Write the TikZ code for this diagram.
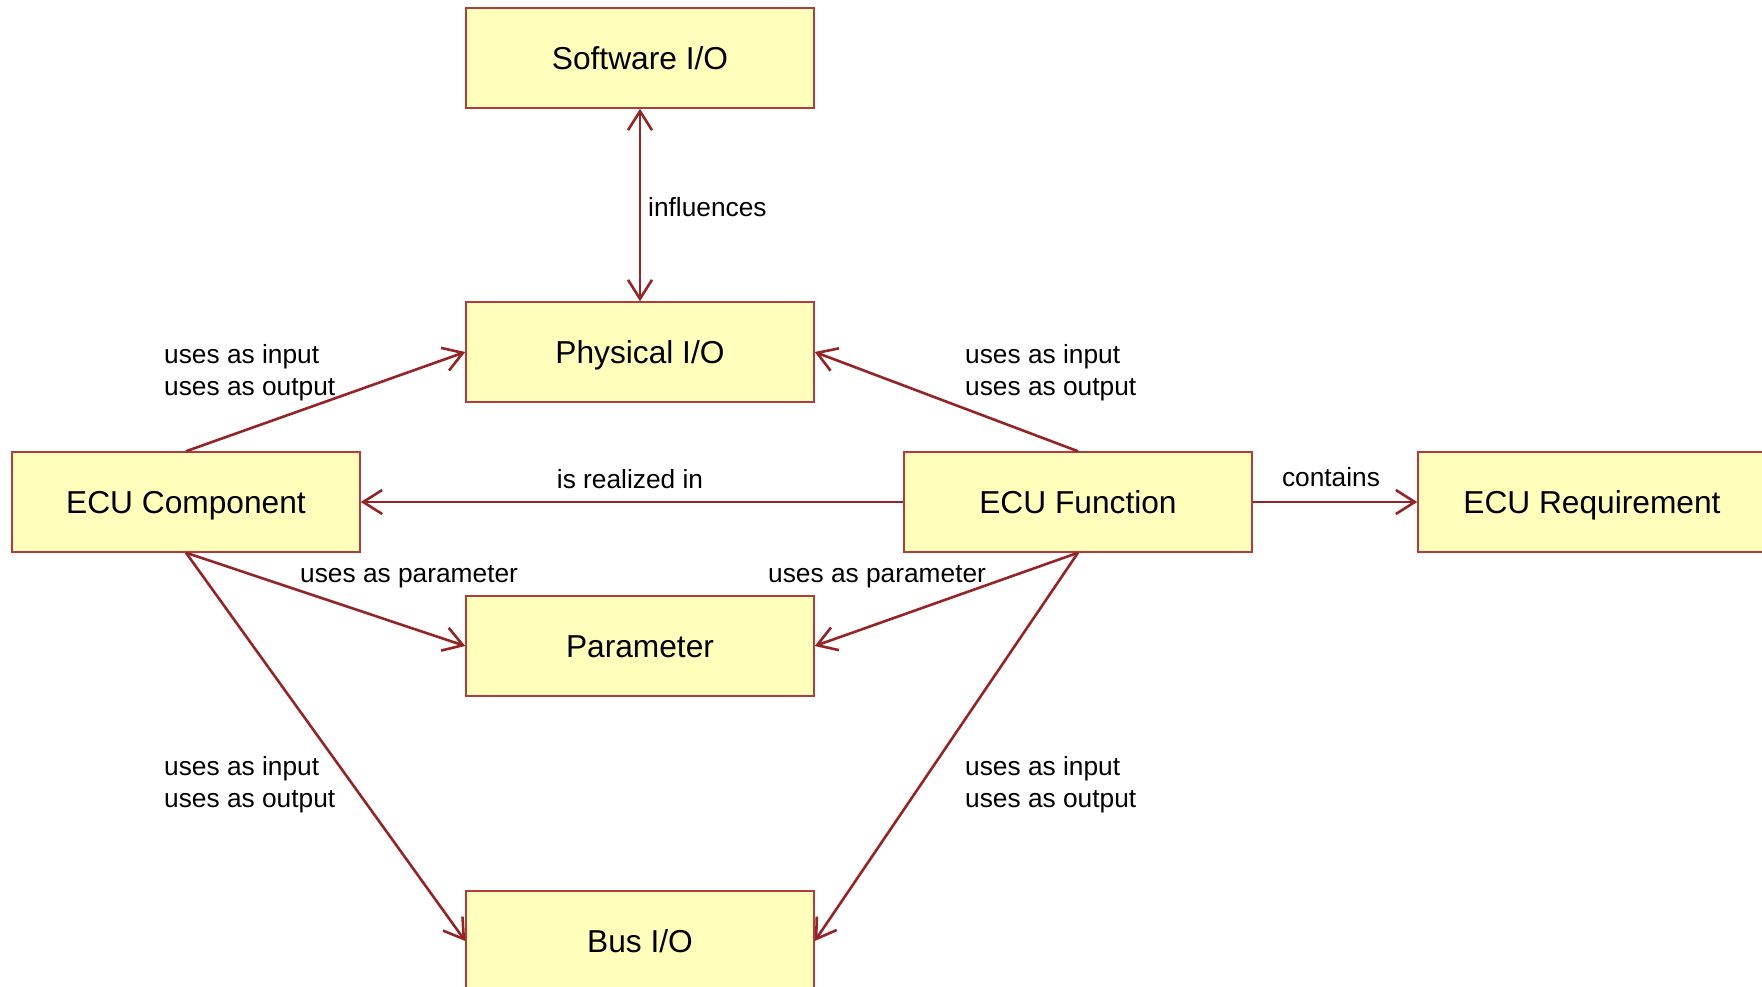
\documentclass[tikz,border=0pt]{standalone}
\usepackage{fontspec}
\setmainfont{Liberation Sans}
\usetikzlibrary{arrows.meta}
\definecolor{boxfill}{RGB}{255,255,187}
\definecolor{boxline}{RGB}{178,60,60}
\definecolor{linkred}{RGB}{150,36,38}
\tikzset{
  entity/.style={draw=boxline, fill=boxfill, line width=1.5pt, rectangle,
    minimum width=348pt, minimum height=100pt, inner sep=0pt,
    text height=22.7pt, text depth=0pt,
    font=\fontsize{31.7}{36}\selectfont},
  link/.style={draw=linkred, line width=2.6pt,
    -{Straight Barb[length=19pt,width=24pt,line width=2.6pt]}},
  biglink/.style={draw=linkred, line width=2.6pt,
    {Straight Barb[length=19pt,width=24pt,line width=2.6pt]}-{Straight Barb[length=19pt,width=24pt,line width=2.6pt]}},
  tag/.style={inner sep=0pt, align=left, font=\fontsize{26.3}{32}\selectfont}
}
\begin{document}
\begin{tikzpicture}[x=1pt,y=-1pt]
\useasboundingbox (0,0) rectangle (1762,986);
% entities
\node[entity] (sw)  at (640,58)   {Software I/O};
\node[entity] (phy) at (640,352)  {Physical I/O};
\node[entity] (cmp) at (186,502)  {ECU Component};
\node[entity] (fn)  at (1078,502) {ECU Function};
\node[entity] (req) at (1592,502) {ECU Requirement};
\node[entity] (par) at (640,646)  {Parameter};
\node[entity] (bus) at (640,941)  {Bus I/O};
% relations
\draw[biglink] (sw.south) -- (phy.north);
\draw[link] (cmp.north) -- (phy.west);
\draw[link] (fn.north) -- (phy.east);
\draw[link] (fn.west) -- (cmp.east);
\draw[link] (fn.east) -- (req.west);
\draw[link] (cmp.south) -- (par.west);
\draw[link] (fn.south) -- (par.east);
\draw[link] (cmp.south) -- (bus.west);
\draw[link] (fn.south) -- (bus.east);
% relation labels
\node[tag, anchor=west] (lInf) at (648,207) {influences};
\node[tag, anchor=west] (lPhyL) at (164,372.5) {uses as input\\uses as output};
\node[tag, anchor=west] (lPhyR) at (965,372.5) {uses as input\\uses as output};
\node[tag] (lReal) at (630,479) {is realized in};
\node[tag] (lCont) at (1331,477) {contains};
\node[tag, anchor=west] (lParL) at (300,577) {uses as parameter};
\node[tag, anchor=west] (lParR) at (768,577) {uses as parameter};
\node[tag, anchor=west] (lBusL) at (164,785) {uses as input\\uses as output};
\node[tag, anchor=west] (lBusR) at (965,785) {uses as input\\uses as output};
\end{tikzpicture}
\end{document}
